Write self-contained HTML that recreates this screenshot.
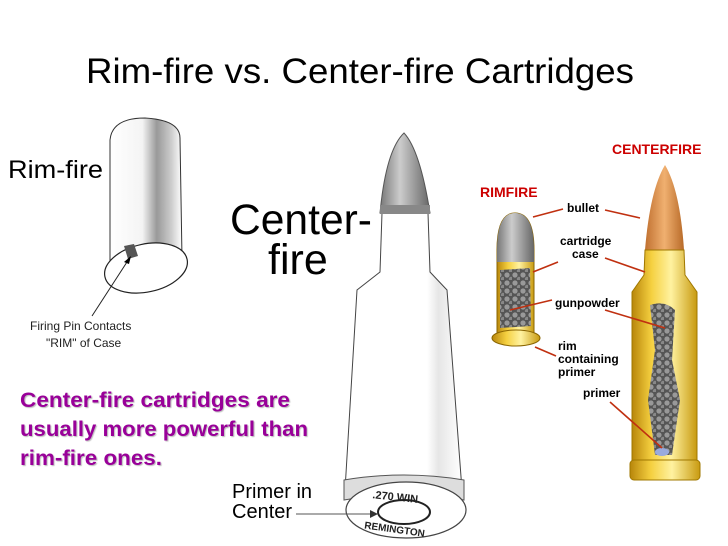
<!DOCTYPE html>
<html><head><style>
body{margin:0;background:#fff}
svg{display:block}
text{font-family:"Liberation Sans",sans-serif}
</style></head><body>
<svg width="728" height="546" viewBox="0 0 728 546" xmlns="http://www.w3.org/2000/svg">
<defs>
<linearGradient id="cyl" x1="0" x2="1"><stop offset="0" stop-color="#fff"/><stop offset="0.45" stop-color="#f4f4f4"/><stop offset="0.65" stop-color="#999"/><stop offset="0.85" stop-color="#ccc"/><stop offset="1" stop-color="#fff"/></linearGradient>
<linearGradient id="brass" x1="0" x2="1"><stop offset="0" stop-color="#b8860b"/><stop offset="0.3" stop-color="#f5d040"/><stop offset="0.6" stop-color="#fff2a0"/><stop offset="1" stop-color="#c89a10"/></linearGradient>
<linearGradient id="copper" x1="0" x2="1"><stop offset="0" stop-color="#c07030"/><stop offset="0.5" stop-color="#f0b070"/><stop offset="1" stop-color="#b86a28"/></linearGradient>
<linearGradient id="lead" x1="0" x2="1"><stop offset="0" stop-color="#777"/><stop offset="0.4" stop-color="#ccc"/><stop offset="1" stop-color="#666"/></linearGradient>
<linearGradient id="wb" x1="0" x2="1"><stop offset="0" stop-color="#fff"/><stop offset="0.7" stop-color="#fff"/><stop offset="0.8" stop-color="#e6e6e6"/><stop offset="1" stop-color="#fff"/></linearGradient>
<pattern id="pw" width="8" height="8" patternUnits="userSpaceOnUse"><rect width="8" height="8" fill="#555"/><circle cx="3" cy="3" r="2.6" fill="#999"/><circle cx="7" cy="7" r="2.2" fill="#888"/></pattern>
</defs>

<text x="86" y="83" font-size="35" textLength="548" lengthAdjust="spacingAndGlyphs" fill="#000">Rim-fire vs. Center-fire Cartridges</text>

<!-- Rim-fire cylinder -->
<path d="M110,262 L110,140 Q112,118 145,118 Q180,120 180,138 L182,258 Z" fill="url(#cyl)" stroke="#333" stroke-width="1"/>
<ellipse cx="146" cy="268" rx="42" ry="24" transform="rotate(-12 146 268)" fill="#fff" stroke="#222" stroke-width="1.2"/>
<path d="M124,246 L134,244 L138,256 L128,259 Z" fill="#555"/>
<line x1="92" y1="316" x2="127" y2="262" stroke="#222" stroke-width="1"/>
<path d="M131,256 L124,262 L129,264 Z" fill="#000"/>
<text x="8" y="178" font-size="25" textLength="95" lengthAdjust="spacingAndGlyphs" fill="#000">Rim-fire</text>
<text x="30" y="330" font-size="12" fill="#222">Firing Pin Contacts</text>
<text x="46" y="347" font-size="12" fill="#222">"RIM" of Case</text>

<!-- Center-fire label -->
<text x="230" y="234" font-size="43" textLength="142" lengthAdjust="spacingAndGlyphs" fill="#000">Center-</text>
<text x="268" y="274" font-size="43" fill="#000">fire</text>

<!-- Center bullet -->
<path d="M345,490 L357,290 L380,272 L382,213 L428,213 L430,272 L447,290 L462,490 Z" fill="url(#wb)" stroke="#444" stroke-width="1"/>
<path d="M380,213 Q386,150 404,133 Q420,150 430,213 Z" fill="url(#lead)" stroke="#555" stroke-width="1"/>
<rect x="380" y="205" width="50" height="9" fill="#888"/>
<path d="M344,480 Q404,470 464,480 L464,500 Q404,490 344,500 Z" fill="#ddd" stroke="#555"/>
<ellipse cx="406" cy="510" rx="60" ry="28" fill="#fff" stroke="#444" stroke-width="1.2"/>
<ellipse cx="404" cy="512" rx="26" ry="12" fill="#fff" stroke="#222" stroke-width="2"/>
<text x="372" y="500" font-size="11" font-weight="bold" fill="#222" transform="rotate(6 390 500)">.270 WIN</text>
<text x="364" y="532" font-size="10" font-weight="bold" fill="#222" transform="rotate(8 390 530)">REMINGTON</text>
<line x1="296" y1="514" x2="374" y2="514" stroke="#555" stroke-width="1"/>
<path d="M378,514 L370,510 L370,518 Z" fill="#333"/>
<text x="232" y="498" font-size="20" fill="#000">Primer in</text>
<text x="232" y="518" font-size="20" fill="#000">Center</text>

<!-- magenta text -->
<g font-size="21" font-weight="bold" fill="#990099" style="text-shadow:1px 1px 1px #bbb">
<text x="20" y="407" textLength="270" lengthAdjust="spacingAndGlyphs">Center-fire cartridges are</text>
<text x="20" y="436" textLength="288" lengthAdjust="spacingAndGlyphs">usually more powerful than</text>
<text x="20" y="465" textLength="142" lengthAdjust="spacingAndGlyphs">rim-fire ones.</text>
</g>

<!-- Rimfire cartridge -->
<path d="M497,250 Q497,213 515,213 Q534,213 534,250 L534,335 L497,335 Z" fill="url(#brass)" stroke="#8a6500"/>
<path d="M497,262 L497,250 Q497,213 515,213 Q534,213 534,250 L534,262 Z" fill="url(#lead)"/>
<path d="M500,270 L530,268 L531,326 L500,328 Z" fill="url(#pw)"/>
<ellipse cx="516" cy="338" rx="24" ry="8" fill="url(#brass)" stroke="#8a6500"/>
<!-- Centerfire cartridge -->
<path d="M645,250 Q650,190 665,165 Q680,190 684,250 Z" fill="url(#copper)"/>
<path d="M645,250 L684,250 L685,275 L697,292 L697,468 L632,468 L632,292 L644,275 Z" fill="url(#brass)" stroke="#a07800"/>
<path d="M650,305 Q665,300 675,310 L672,360 L680,400 L672,455 L655,455 L648,400 L655,350 Z" fill="url(#pw)"/>
<rect x="630" y="460" width="70" height="20" rx="4" fill="url(#brass)" stroke="#a07800"/>
<ellipse cx="662" cy="452" rx="7" ry="4" fill="#9ad"/>

<g font-weight="bold">
<text x="480" y="197" font-size="14" fill="#c00">RIMFIRE</text>
<text x="612" y="154" font-size="14" fill="#c00">CENTERFIRE</text>
<g font-size="12" fill="#000">
<text x="567" y="212">bullet</text>
<text x="560" y="245">cartridge</text>
<text x="572" y="258">case</text>
<text x="555" y="307">gunpowder</text>
<text x="558" y="350">rim</text>
<text x="558" y="363">containing</text>
<text x="558" y="376">primer</text>
<text x="583" y="397">primer</text>
</g></g>
<g stroke="#c03010" stroke-width="1.6">
<line x1="533" y1="217" x2="563" y2="209"/><line x1="605" y1="210" x2="640" y2="218"/>
<line x1="533" y1="272" x2="558" y2="262"/><line x1="605" y1="258" x2="645" y2="272"/>
<line x1="510" y1="310" x2="552" y2="300"/><line x1="605" y1="310" x2="665" y2="328"/>
<line x1="535" y1="347" x2="556" y2="356"/><line x1="610" y1="402" x2="662" y2="448"/>
</g>
</svg>
</body></html>
